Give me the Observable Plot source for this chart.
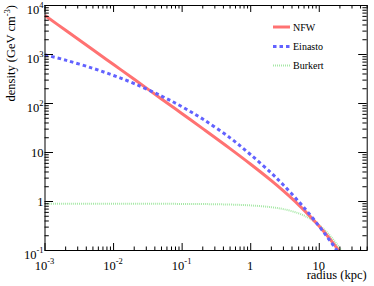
<!DOCTYPE html>
<html><head><meta charset="utf-8">
<script src="https://cdn.jsdelivr.net/npm/d3@7"></script>
<script src="https://cdn.jsdelivr.net/npm/@observablehq/plot@0.6"></script>
<style>body{margin:0;background:#fff;} svg text, svg tspan {font-family: "Liberation Serif","Times New Roman","DejaVu Serif",serif !important;}</style>
</head><body><div id="chart"></div>
<script>
// ---- data ----
const radius  = [0.001,0.002,0.005,0.01,0.02,0.05,0.1,0.2,0.5,1,2,3,5,7,10,13,16,20,25];
const nfw     = [6240,3120,1248,624,312,124,61.9,30.7,12.0,5.75,2.66,1.64,0.855,0.534,0.311,0.202,0.140,0.093,0.060];
const einasto = [986,767,522,373,255,142,85.6,48.1,19.9,9.0,3.8,2.17,1.0,0.58,0.31,0.19,0.128,0.082,0.052];
const burkert = [0.90,0.90,0.90,0.899,0.899,0.897,0.893,0.887,0.866,0.832,0.765,0.699,0.573,0.462,0.328,0.233,0.167,0.110,0.069];
const seriesNames = ["NFW","Einasto","Burkert"];

const xTicks = [0.001,0.01,0.1,1,10];
const xBase  = ["10","10","10","1","10"];
const xExp   = ["-3","-2","-1","",""];
const yTicks = [0.1,1,10,100,1000,10000];
const yBase  = ["10","1","10","10","10","10"];
const yExp   = ["-1","","","2","3","4"];
const minorMult = [2,3,4,5,6,7,8,9];
const xTitle = "radius (kpc)";
const yTitleMain = "density (GeV cm";
const yTitleExp = "-3";

// ---- style ----
const W = 374, H = 286, mL = 44.5, mR = 7.3, mT = 5, mB = 36;
const fW = W - mL - mR, fH = H - mT - mB;
const colors = {NFW: "#ff7272", Einasto: "#6262ff", Burkert: "#a6e8a6"};
const FONT = '"Liberation Serif","Times New Roman","DejaVu Serif",serif';

const table = (vals) => radius.map((r, i) => ({r, v: vals[i]}));
const dNFW = table(nfw), dEin = table(einasto), dBur = table(burkert);

const xMinor = xTicks.flatMap(d => minorMult.map(m => d * m)).filter(v => v <= 50);
const yMinor = yTicks.slice(0, -1).flatMap(d => minorMult.map(m => d * m));

function txt(sel, size) {
  return sel.append("text").attr("font-family", FONT).style("font-family", FONT)
    .attr("font-size", size).style("font-size", size + "px");
}

function decorations(index, scales) {
  const g = d3.create("svg:g").attr("fill", "black");
  xTicks.forEach((v, i) => {
    const t = txt(g, 12.5).attr("x", scales.x(v)).attr("y", 269.5).attr("text-anchor", "middle");
    t.append("tspan").text(xBase[i]);
    if (xExp[i]) t.append("tspan").style("font-size", "8.5px").attr("dy", -6).text(xExp[i]);
  });
  yTicks.forEach((v, i) => {
    const t = txt(g, 12.5).attr("x", 43.5).attr("y", scales.y(v) + (yExp[i] ? 9 : 4.5))
      .attr("text-anchor", "end");
    t.append("tspan").text(yBase[i]);
    if (yExp[i]) t.append("tspan").style("font-size", "8.5px").attr("dy", -6).text(yExp[i]);
  });
  txt(g, 12.5).attr("x", W - mR).attr("y", 278.5).attr("text-anchor", "end").text(xTitle);
  const yt = txt(g, 12.5).attr("transform", `translate(14.5,${mT}) rotate(-90)`)
    .attr("text-anchor", "end");
  yt.append("tspan").text(yTitleMain);
  yt.append("tspan").style("font-size", "8.5px").attr("dy", -5).text(yTitleExp);
  yt.append("tspan").attr("dy", 5).text(")");
  // legend
  const ly = [27, 46.5, 65.5];
  const dash = {NFW: null, Einasto: "3.5,3", Burkert: "1,1"};
  const sw = {NFW: 3, Einasto: 3, Burkert: 2};
  seriesNames.forEach((n, i) => {
    g.append("line").attr("x1", 273).attr("x2", 290).attr("y1", ly[i]).attr("y2", ly[i])
      .attr("stroke", colors[n]).attr("stroke-width", sw[n]).attr("stroke-dasharray", dash[n])
      .attr("stroke-linecap", "butt");
    txt(g, 10).attr("x", 293).attr("y", ly[i] + 3.5).attr("text-anchor", "start").text(n);
  });
  return g.node();
}

const lineOpts = {x: "r", y: "v", curve: "catmull-rom", clip: true, strokeLinecap: "butt", strokeLinejoin: "miter"};
const chart = Plot.plot({
  width: W, height: H,
  marginLeft: mL, marginRight: mR, marginTop: mT, marginBottom: mB,
  style: {background: "white", overflow: "visible", fontFamily: FONT},
  x: {type: "log", domain: [0.001, 50], axis: null},
  y: {type: "log", domain: [0.1, 10000], axis: null},
  marks: [
    Plot.line(dBur, {...lineOpts, stroke: colors.Burkert, strokeWidth: 2, strokeDasharray: "1,1"}),
    Plot.line(dNFW, {...lineOpts, stroke: colors.NFW, strokeWidth: 3}),
    Plot.line(dEin, {...lineOpts, stroke: colors.Einasto, strokeWidth: 3, strokeDasharray: "3.5,3"}),
    // inward ticks on four sides
    Plot.tickX(xTicks, {x: d => d, insetTop: fH - 7, stroke: "black"}),
    Plot.tickX(xMinor, {x: d => d, insetTop: fH - 3.5, stroke: "black"}),
    Plot.tickX(xTicks, {x: d => d, insetBottom: fH - 7, stroke: "black"}),
    Plot.tickX(xMinor, {x: d => d, insetBottom: fH - 3.5, stroke: "black"}),
    Plot.tickY(yTicks, {y: d => d, insetRight: fW - 8.5, stroke: "black"}),
    Plot.tickY(yMinor, {y: d => d, insetRight: fW - 4.3, stroke: "black"}),
    Plot.tickY(yTicks, {y: d => d, insetLeft: fW - 8.5, stroke: "black"}),
    Plot.tickY(yMinor, {y: d => d, insetLeft: fW - 4.3, stroke: "black"}),
    Plot.frame({stroke: "black", strokeWidth: 1}),
    decorations
  ]
});
document.getElementById("chart").appendChild(chart);
</script>
</body></html>
